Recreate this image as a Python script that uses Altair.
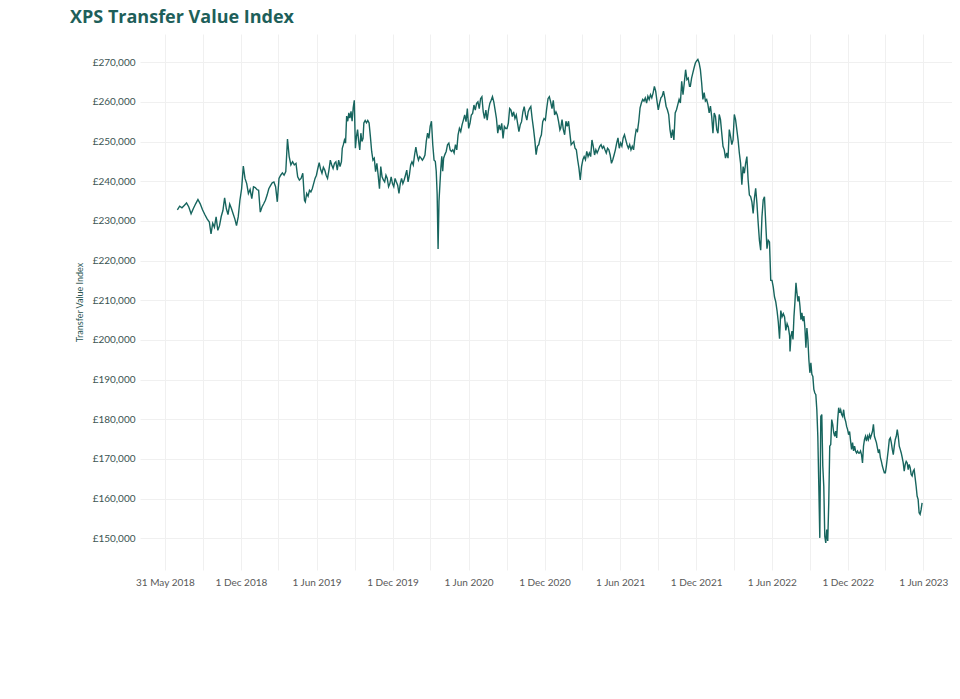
import altair as alt
import pandas as pd

# ---- data (values in £ thousands) ----
seg_a_span = ("2018-07-01", "2018-09-16")
seg_a = [232.8, 233.7, 233.3, 233.9, 234.5, 233.5, 231.8, 233.1, 234.3, 235.4, 234.3, 232.8, 231.6, 230.5, 229.7]

seg_b_span = ("2018-09-20", "2019-05-03")
seg_b = [226.7, 229.4, 228.4, 231.0, 227.6, 228.8, 231.1, 232.6, 235.8, 233.1, 231.6, 234.2, 233.1, 231.8,
         230.5, 228.8, 231.0, 235.2, 238.1, 243.8, 240.7, 239.4, 236.9, 237.9, 235.6, 238.6, 238.4, 237.9,
         237.7, 232.2, 233.5, 234.3, 235.2, 236.5, 238.1, 238.9, 239.6, 239.8, 238.6, 234.8, 240.7, 241.5,
         242.1, 241.5, 242.4, 250.6, 246.2, 244.1, 244.9, 244.1, 244.5, 241.1, 240.3, 240.7, 242.0, 235.2]

seg_c1_span = ("2019-05-05", "2019-07-31")
seg_c1 = [234.8, 236.9, 236.2, 237.7, 237.3, 238.1, 239.4, 240.7, 241.5, 243.2, 244.7, 243.0, 242.0, 243.5,
          242.8, 241.5, 240.7, 242.8, 245.3, 244.1, 243.2, 244.5, 244.9, 242.8, 245.3, 243.7, 244.9]

seg_c2_span = ("2019-08-02", "2019-09-21")
seg_c2 = [248.3, 249.2, 250.4, 249.6, 256.4, 255.1, 257.2, 255.9, 257.6, 255.1, 258.5, 260.4, 248.3, 251.3,
          253.0, 250.0, 247.9, 252.1, 250.0, 250.8]

seg_c3_span = ("2019-09-23", "2020-03-10")
seg_c3 = [254.7, 255.3, 254.7, 255.3, 254.7, 251.3, 247.5, 245.3, 245.8, 242.4, 244.5, 241.5, 238.1, 243.7,
          241.1, 240.3, 239.8, 241.5, 240.7, 238.6, 239.4, 241.1, 239.4, 238.6, 240.7, 239.8, 239.0, 236.9,
          239.4, 240.7, 239.4, 240.3, 241.5, 242.8, 239.8, 241.5, 244.1, 244.9, 244.1, 246.6, 248.6, 246.6,
          245.3, 246.2, 245.8, 245.3, 245.8, 246.6, 250.0, 252.1, 250.8, 253.8, 255.1, 249.2, 245.3]

seg_d1_span = ("2020-03-13", "2020-04-02")
seg_d1 = [245.0, 242.5, 236.7, 222.9, 235.0, 239.2, 243.3, 246.3, 242.5, 245.8]

seg_d2_span = ("2020-04-05", "2021-01-07")
seg_d2 = [246.7, 247.5, 249.2, 249.6, 247.9, 247.5, 247.9, 247.1, 249.2, 247.9, 251.7, 253.3, 252.5, 254.2,
          255.4, 256.7, 255.0, 258.3, 253.3, 254.6, 256.7, 257.1, 259.2, 257.9, 259.6, 260.0, 258.3, 260.8,
          261.3, 257.5, 255.8, 257.9, 255.4, 257.9, 259.6, 260.4, 261.3, 260.0, 257.9, 255.8, 252.1, 254.2,
          252.9, 254.6, 250.8, 253.8, 253.3, 253.3, 254.6, 258.3, 257.9, 256.3, 257.5, 255.8, 256.7, 254.6,
          252.5, 254.2, 255.0, 257.5, 258.8, 256.7, 255.4, 257.5, 258.3, 258.8, 255.8, 253.3, 250.4, 246.7,
          248.8, 249.2, 250.8, 251.7, 255.0, 255.8, 255.4, 258.3, 260.8, 261.3, 260.0, 258.3, 260.4, 256.7,
          257.5, 256.7, 255.0, 252.9]

seg_e_span = ("2021-01-09", "2021-11-15")
seg_e = [253.4, 255.5, 253.0, 251.7, 255.1, 253.8, 255.1, 252.1, 249.2, 249.6, 250.0, 248.3, 247.9, 245.4,
         243.3, 240.3, 243.7, 245.4, 246.2, 245.4, 247.5, 246.2, 247.1, 246.2, 250.4, 248.8, 246.6, 247.9,
         247.1, 247.9, 248.8, 249.2, 248.3, 248.8, 247.9, 247.1, 248.3, 247.9, 246.6, 244.5, 245.4, 246.6,
         247.9, 249.6, 250.9, 248.3, 249.6, 248.8, 250.9, 251.7, 250.4, 249.2, 248.3, 249.2, 247.9, 248.8,
         247.9, 250.9, 253.0, 252.6, 255.1, 258.5, 259.7, 260.6, 260.2, 261.0, 259.7, 261.4, 260.6, 261.8,
         261.0, 262.2, 263.9, 262.7, 260.2, 258.0, 259.7, 261.0, 261.4, 262.7, 261.0, 258.9, 258.0, 256.8,
         253.0, 250.9, 253.0, 250.4, 257.2, 258.0, 259.3, 260.6, 259.7, 265.2, 261.8, 264.8, 268.1, 265.6,
         266.0, 263.9]

seg_f_span = ("2021-11-17", "2022-07-14")
seg_f = [263.9, 266.0, 267.3, 268.6, 269.8, 270.3, 270.7, 269.8, 268.1, 264.8, 260.6, 262.3, 260.2, 260.6,
         259.3, 257.2, 258.9, 256.3, 252.1, 257.2, 256.3, 253.0, 252.1, 256.8, 255.5, 252.1, 248.8, 247.9,
         245.8, 247.1, 245.8, 253.0, 251.3, 249.2, 250.4, 256.8, 255.5, 253.0, 250.4, 247.1, 244.5, 239.1,
         243.7, 242.0, 244.5, 246.2, 240.3, 236.5, 236.1, 234.8, 231.9, 235.7, 238.2, 234.4, 229.4, 225.0,
         222.6, 231.0, 235.3, 236.1, 229.4, 223.0, 225.1, 224.7, 215.0, 215.0, 213.3, 210.8, 209.6, 207.4,
         204.5, 200.3, 207.4, 205.8, 206.6, 205.8, 202.4, 204.1, 203.2, 201.1]

seg_g_span = ("2022-07-15", "2023-05-29")
seg_g = [197.1, 200.9, 202.2, 200.1, 206.0, 209.7, 214.4, 211.8, 209.7, 211.0, 208.5, 205.1, 206.8, 204.7,
         206.0, 203.0, 198.0, 203.0, 200.1, 195.0, 191.7, 194.2, 191.3, 190.8, 187.5, 186.6, 186.2, 182.4,
         175.7, 163.1, 150.1, 180.7, 181.2, 168.2, 163.1, 150.5, 148.8, 152.2, 149.3, 158.9, 173.2, 173.6,
         179.9, 178.7, 176.6, 175.7, 177.0, 175.3, 179.9, 182.9, 181.6, 182.4, 181.2, 180.7, 182.4, 180.3,
         179.5, 178.2, 177.4, 176.1, 176.9, 174.5, 172.4, 174.1, 172.0, 173.2, 172.0, 171.5, 172.0, 171.5,
         171.5, 172.0, 171.1, 169.0, 173.2, 174.9, 175.7, 174.5, 175.7, 174.9, 176.1, 175.3, 176.1, 176.9,
         178.7, 175.7, 174.9, 174.1, 172.8, 171.5, 172.4, 170.3, 169.4, 168.2, 167.3, 166.5, 166.5, 168.2,
         170.3, 172.4, 174.9, 175.3, 174.1, 172.4, 171.1, 173.2, 174.9, 175.7, 177.4, 175.7, 173.2, 172.4,
         171.5, 170.3, 169.0, 166.9, 168.6, 169.4, 169.0, 167.3, 168.6, 167.8, 166.1, 165.7, 166.9, 167.3,
         165.2, 163.1, 160.6, 159.8, 156.4, 156.0, 157.2, 158.9]

segments = [
    (seg_a_span, seg_a), (seg_b_span, seg_b), (seg_c1_span, seg_c1), (seg_c2_span, seg_c2),
    (seg_c3_span, seg_c3), (seg_d1_span, seg_d1), (seg_d2_span, seg_d2), (seg_e_span, seg_e),
    (seg_f_span, seg_f), (seg_g_span, seg_g),
]

# x-axis ticks (gridlines quarterly, labels half-yearly)
tick_dates = ["2018-06-01", "2018-09-01", "2018-12-01", "2019-03-01", "2019-06-01", "2019-09-01",
              "2019-12-01", "2020-03-01", "2020-06-01", "2020-09-01", "2020-12-01", "2021-03-01",
              "2021-06-01", "2021-09-01", "2021-12-01", "2022-03-01", "2022-06-01", "2022-09-01",
              "2022-12-01", "2023-03-01", "2023-06-01"]
tick_labels = ["31 May 2018", "", "1 Dec 2018", "", "1 Jun 2019", "", "1 Dec 2019", "", "1 Jun 2020", "",
               "1 Dec 2020", "", "1 Jun 2021", "", "1 Dec 2021", "", "1 Jun 2022", "", "1 Dec 2022", "",
               "1 Jun 2023"]
y_ticks = [150000, 160000, 170000, 180000, 190000, 200000, 210000, 220000, 230000, 240000, 250000,
           260000, 270000]
x_domain = ["2018-04-02", "2023-08-09"]
y_domain = [142000, 277100]
title_text = "XPS Transfer Value Index"
y_title = "Transfer Value Index"

# ---- build table ----
frames = []
for (start, end), vals in segments:
    dates = pd.date_range(start, end, periods=len(vals))
    frames.append(pd.DataFrame({
        "date": dates.strftime("%Y-%m-%dT%H:%M:%SZ"),
        "value": [v * 1000 for v in vals],
    }))
df = pd.concat(frames, ignore_index=True)


def ms(d):
    return int(pd.Timestamp(d, tz="UTC").timestamp() * 1000)


tick_ms = [ms(d) for d in tick_dates]
expr = "''"
for t, lab in reversed(list(zip(tick_ms, tick_labels))):
    expr = f"time(datum.value) == {t} ? '{lab}' : ({expr})"

FONT = "Lato"

line = alt.Chart(df).mark_line(color="#17655e", strokeWidth=1.4).encode(
    x=alt.X("date:T",
            scale=alt.Scale(type="utc", domain=[ms(d) for d in x_domain], nice=False),
            axis=alt.Axis(values=tick_ms, labelExpr=expr, title=None, grid=True,
                          gridColor="#f0f0f0", ticks=False, domain=False, labelOverlap=False,
                          labelFont=FONT, labelFontSize=10, labelColor="#595959",
                          labelPadding=7, labelBound=False, labelFlush=False)),
    y=alt.Y("value:Q",
            scale=alt.Scale(domain=y_domain, nice=False, zero=False),
            axis=alt.Axis(values=y_ticks, labelExpr="'£' + format(datum.value, ',')",
                          title=y_title, titleFont=FONT, titleFontSize=9,
                          titleFontWeight="normal", titleColor="#2b5552", titlePadding=8,
                          grid=True, gridColor="#f0f0f0", ticks=False, domain=False,
                          labelFont=FONT, labelFontSize=10, labelColor="#3b5452",
                          labelPadding=5)),
)

title = alt.Chart(pd.DataFrame({"t": [title_text]})).mark_text(
    align="left", baseline="alphabetic", font="Open Sans", fontSize=18, fontWeight="bold",
    color="#1e5f5a",
).encode(text="t:N", x=alt.value(-70), y=alt.value(-11))

chart = alt.layer(line, title).properties(
    width=812,
    height=536,
    padding={"left": 132, "top": 26, "right": 0, "bottom": 40},
    autosize=alt.AutoSizeParams(type="none"),
).configure(
    background="white",
    view=alt.ViewConfig(stroke="transparent", strokeWidth=0),
)

chart.save("out.html", embed_options={"renderer": "svg", "actions": False})
